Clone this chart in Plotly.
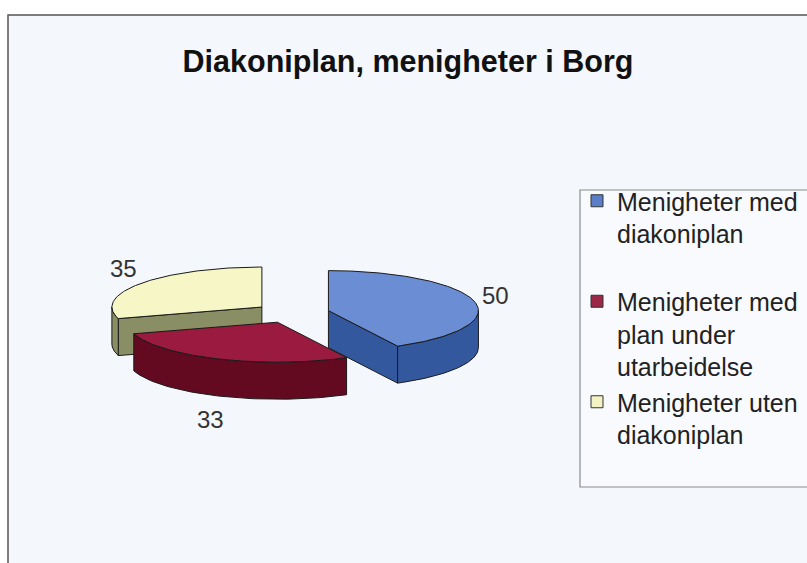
import numpy as np
import plotly.graph_objects as go

# ---- data ----
categories = ["Menigheter med diakoniplan",
              "Menigheter med plan under utarbeidelse",
              "Menigheter uten diakoniplan"]
legend_labels = ["Menigheter med<br>diakoniplan<br> ",
                 "Menigheter med<br>plan under<br>utarbeidelse",
                 "Menigheter uten<br>diakoniplan"]
values = [50, 33, 35]

# ---- styles ----
top_colors = ["#6A8DD4", "#9A1A40", "#F6F6C6"]
side_colors = ["#34589E", "#640A20", "#8A8E64"]
legend_colors = ["#5A7FC8", "#9B2846", "#F2F2C4"]
W, H = 807, 563
CX, CY = 292, 313      # pie centre (px)
RX, RY = 150, 40       # ellipse radii
T = 37                 # thickness
PULL = 0.25
LBL_RX, LBL_RY = 172, 65
EDGE = "#1a1a1a"
FONT = "Liberation Sans, Arial, sans-serif"

fig = go.Figure()

total = float(sum(values))
spans = [v / total * 360.0 for v in values]
starts = 90 - np.concatenate([[0], np.cumsum(spans)[:-1]])


def rim(theta_deg, ox, oy, z=0.0):
    t = np.radians(theta_deg)
    return ox + RX * np.cos(t), oy - RY * np.sin(t) + z


slices = []
for i, v in enumerate(values):
    a_hi = starts[i]
    a_lo = a_hi - spans[i]
    mid = 0.5 * (a_hi + a_lo)
    ox = CX + PULL * RX * np.cos(np.radians(mid))
    oy = CY - PULL * RY * np.sin(np.radians(mid))
    slices.append((i, a_lo, a_hi, mid, ox, oy))

# back slices first
order = sorted(slices, key=lambda s: -np.sin(np.radians(s[3])))


def poly(xs, ys, color):
    fig.add_trace(go.Scatter(
        x=list(xs) + [xs[0]], y=list(ys) + [ys[0]], mode="lines",
        fill="toself", fillcolor=color,
        line=dict(color=EDGE, width=1), hoverinfo="skip",
        showlegend=False))


for (i, a_lo, a_hi, mid, ox, oy) in order:
    # radial faces
    for a, nrm in ((a_lo, a_lo - 90), (a_hi, a_hi + 90)):
        if np.sin(np.radians(nrm)) < -1e-6:
            rx_, ry_ = rim(a, ox, oy)
            poly([ox, rx_, rx_, ox], [oy, ry_, ry_ + T, oy + T], side_colors[i])
    # outer curved side (front-facing part)
    for k in range(-2, 2):
        lo = max(a_lo, -180 + 360 * k)
        hi = min(a_hi, 0 + 360 * k)
        if hi > lo:
            th = np.linspace(lo, hi, 60)
            xt, yt = rim(th, ox, oy)
            xb, yb = rim(th[::-1], ox, oy, T)
            poly(np.concatenate([xt, xb]), np.concatenate([yt, yb]), side_colors[i])
    # top face
    th = np.linspace(a_lo, a_hi, 120)
    xt, yt = rim(th, ox, oy)
    poly(np.concatenate([[ox], xt]), np.concatenate([[oy], yt]), top_colors[i])

# data labels
for (i, a_lo, a_hi, mid, ox, oy) in slices:
    m = np.radians(mid)
    lx = ox + LBL_RX * np.cos(m)
    ly = oy - LBL_RY * np.sin(m) + (T if np.sin(m) < 0 else 0)
    fig.add_annotation(x=lx, y=ly, text=str(values[i]), showarrow=False,
                       font=dict(size=24, color="#333333", family=FONT))

# legend entries
for i, lab in enumerate(legend_labels):
    fig.add_trace(go.Scatter(
        x=[None], y=[None], mode="markers", name=lab,
        marker=dict(symbol="square", size=12, color=legend_colors[i],
                    line=dict(color="#333333", width=1)),
        showlegend=True))

# chart frame and legend box
fig.add_shape(type="rect", x0=8, y0=15, x1=W + 20, y1=H + 20,
              line=dict(color="#555555", width=1.5), fillcolor="#F4F7FB",
              layer="below")
fig.add_shape(type="rect", x0=580, y0=190, x1=W + 20, y1=487,
              line=dict(color="#8a8a8a", width=1.2), fillcolor="#F8FAFD",
              layer="below")

fig.update_layout(
    width=W, height=H,
    margin=dict(l=0, r=0, t=0, b=0),
    paper_bgcolor="#FFFFFF", plot_bgcolor="rgba(0,0,0,0)",
    xaxis=dict(range=[0, W], visible=False, fixedrange=True),
    yaxis=dict(range=[H, 0], visible=False, fixedrange=True),
    title=dict(text="<b>Diakoniplan, menigheter i Borg</b>",
               x=408 / W, xanchor="center", y=1 - 61 / H, yanchor="middle",
               font=dict(size=30.5, color="#111111", family=FONT)),
    legend=dict(x=577 / W, xanchor="left", y=1 - 178 / H, yanchor="top",
                bgcolor="rgba(0,0,0,0)", borderwidth=0,
                valign="top",
                font=dict(size=25, color="#222222", family=FONT)),
    showlegend=True,
)

fig.write_html("out.html",
               config={"displayModeBar": False},
               post_script="document.body.style.margin='0';"
                           "document.body.style.overflow='hidden';")
